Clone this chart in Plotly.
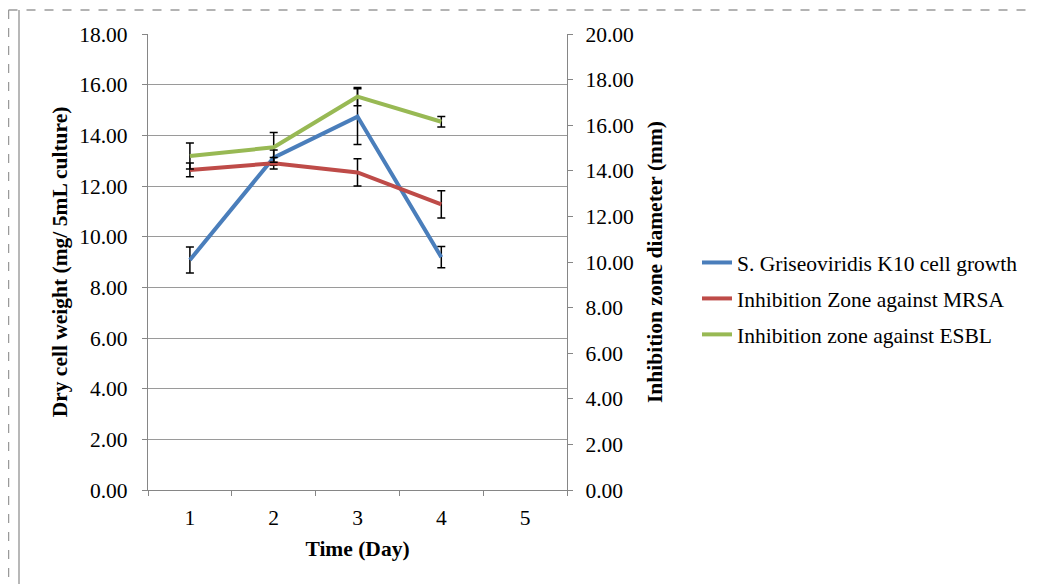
import plotly.graph_objects as go

days = ["1", "2", "3", "4"]
all_days = ["1", "2", "3", "4", "5"]

growth = [9.08, 13.12, 14.74, 9.19]
growth_err = [0.51, 0.30, 1.10, 0.42]

mrsa = [14.04, 14.33, 13.93, 12.53]
mrsa_err = [0.30, 0.25, 0.60, 0.60]

esbl = [14.65, 15.03, 17.25, 16.15]
esbl_err = [0.57, 0.65, 0.40, 0.23]

names = ["S. Griseoviridis K10 cell growth",
         "Inhibition Zone against MRSA",
         "Inhibition zone against ESBL"]
colors = ["#4A7EBB", "#BE4B48", "#98B954"]

FONT = "Liberation Serif, Times New Roman, serif"
FS = 21.5

fig = go.Figure()

def err(vals):
    return dict(type="data", array=vals, visible=True, color="black",
                thickness=1.5, width=4)

fig.add_trace(go.Scatter(x=days, y=growth, name=names[0], mode="lines",
                         line=dict(color=colors[0], width=4),
                         error_y=err(growth_err), legendgroup="a"))
fig.add_trace(go.Scatter(x=days, y=mrsa, name=names[1], mode="lines",
                         line=dict(color=colors[1], width=4),
                         error_y=err(mrsa_err), yaxis="y2", legendgroup="b"))
fig.add_trace(go.Scatter(x=days, y=esbl, name=names[2], mode="lines",
                         line=dict(color=colors[2], width=4),
                         error_y=err(esbl_err), yaxis="y2", legendgroup="c"))

# page is offset by the 8px body margin
OFF = 8
W, H = 1039 - OFF, 584 - OFF
L, R, T, B = 148 - OFF, 567 - OFF, 34 - OFF, 490 - OFF
pw, ph = R - L, B - T

def px_x(p):
    return (p - OFF - L) / pw

def px_y(p):
    return (B - (p - OFF)) / ph

fig.update_layout(
    width=W, height=H,
    margin=dict(l=L, r=W - R, t=T, b=H - B, autoexpand=False),
    paper_bgcolor="white", plot_bgcolor="white",
    font=dict(family=FONT, size=FS, color="black"),
    showlegend=True,
    legend=dict(x=px_x(697), y=px_y(242), xanchor="left", yanchor="top",
                font=dict(family=FONT, size=FS, color="black"),
                traceorder="grouped", tracegroupgap=5,
                bgcolor="rgba(0,0,0,0)", itemwidth=30),
    xaxis=dict(type="category", categoryorder="array", categoryarray=all_days,
               range=[-0.5, 4.5], tickson="boundaries", ticks="outside",
               ticklen=5, tickcolor="#868686", showline=True, linecolor="#868686",
               linewidth=1.3, showgrid=False, zeroline=False,
               ticklabelstandoff=8,
               tickfont=dict(family=FONT, size=FS),
               title=dict(text="<b>Time (Day)</b>", font=dict(family=FONT, size=FS),
                          standoff=11)),
    yaxis=dict(range=[0, 18], dtick=2, tickformat=".2f", ticks="outside",
               ticklen=5, tickcolor="#868686", showline=True, linecolor="#868686",
               linewidth=1.3, showgrid=True, gridcolor="#9a9a9a", gridwidth=1.3,
               zeroline=False, tickfont=dict(family=FONT, size=FS),
               ticklabelstandoff=10,
               title=dict(text="<b>Dry cell weight (mg/ 5mL culture)</b>",
                          font=dict(family=FONT, size=FS), standoff=5)),
    yaxis2=dict(range=[0, 20], dtick=2, tickformat=".2f", ticks="outside",
                ticklen=5, tickcolor="#868686", showline=True, linecolor="#868686",
                linewidth=1.3, showgrid=False, zeroline=False, overlaying="y",
                side="right", tickfont=dict(family=FONT, size=FS),
                ticklabelstandoff=8,
                title=dict(text="<b>Inhibition zone diameter (mm)</b>",
                           font=dict(family=FONT, size=FS), standoff=14)),
    shapes=[
        dict(type="line", xref="paper", yref="paper",
             x0=px_x(8.5), x1=px_x(1039), y0=px_y(10), y1=px_y(10),
             line=dict(color="#9a9a9a", width=1.5, dash="dash")),
        dict(type="line", xref="paper", yref="paper",
             x0=px_x(8.5), x1=px_x(8.5), y0=px_y(10), y1=px_y(584),
             line=dict(color="#9a9a9a", width=1.5, dash="dash")),
        dict(type="line", xref="paper", yref="paper",
             x0=px_x(19), x1=px_x(19), y0=px_y(10), y1=px_y(584),
             line=dict(color="#a0a0a0", width=1.5)),
    ],
)

fig.write_html("out.html")
